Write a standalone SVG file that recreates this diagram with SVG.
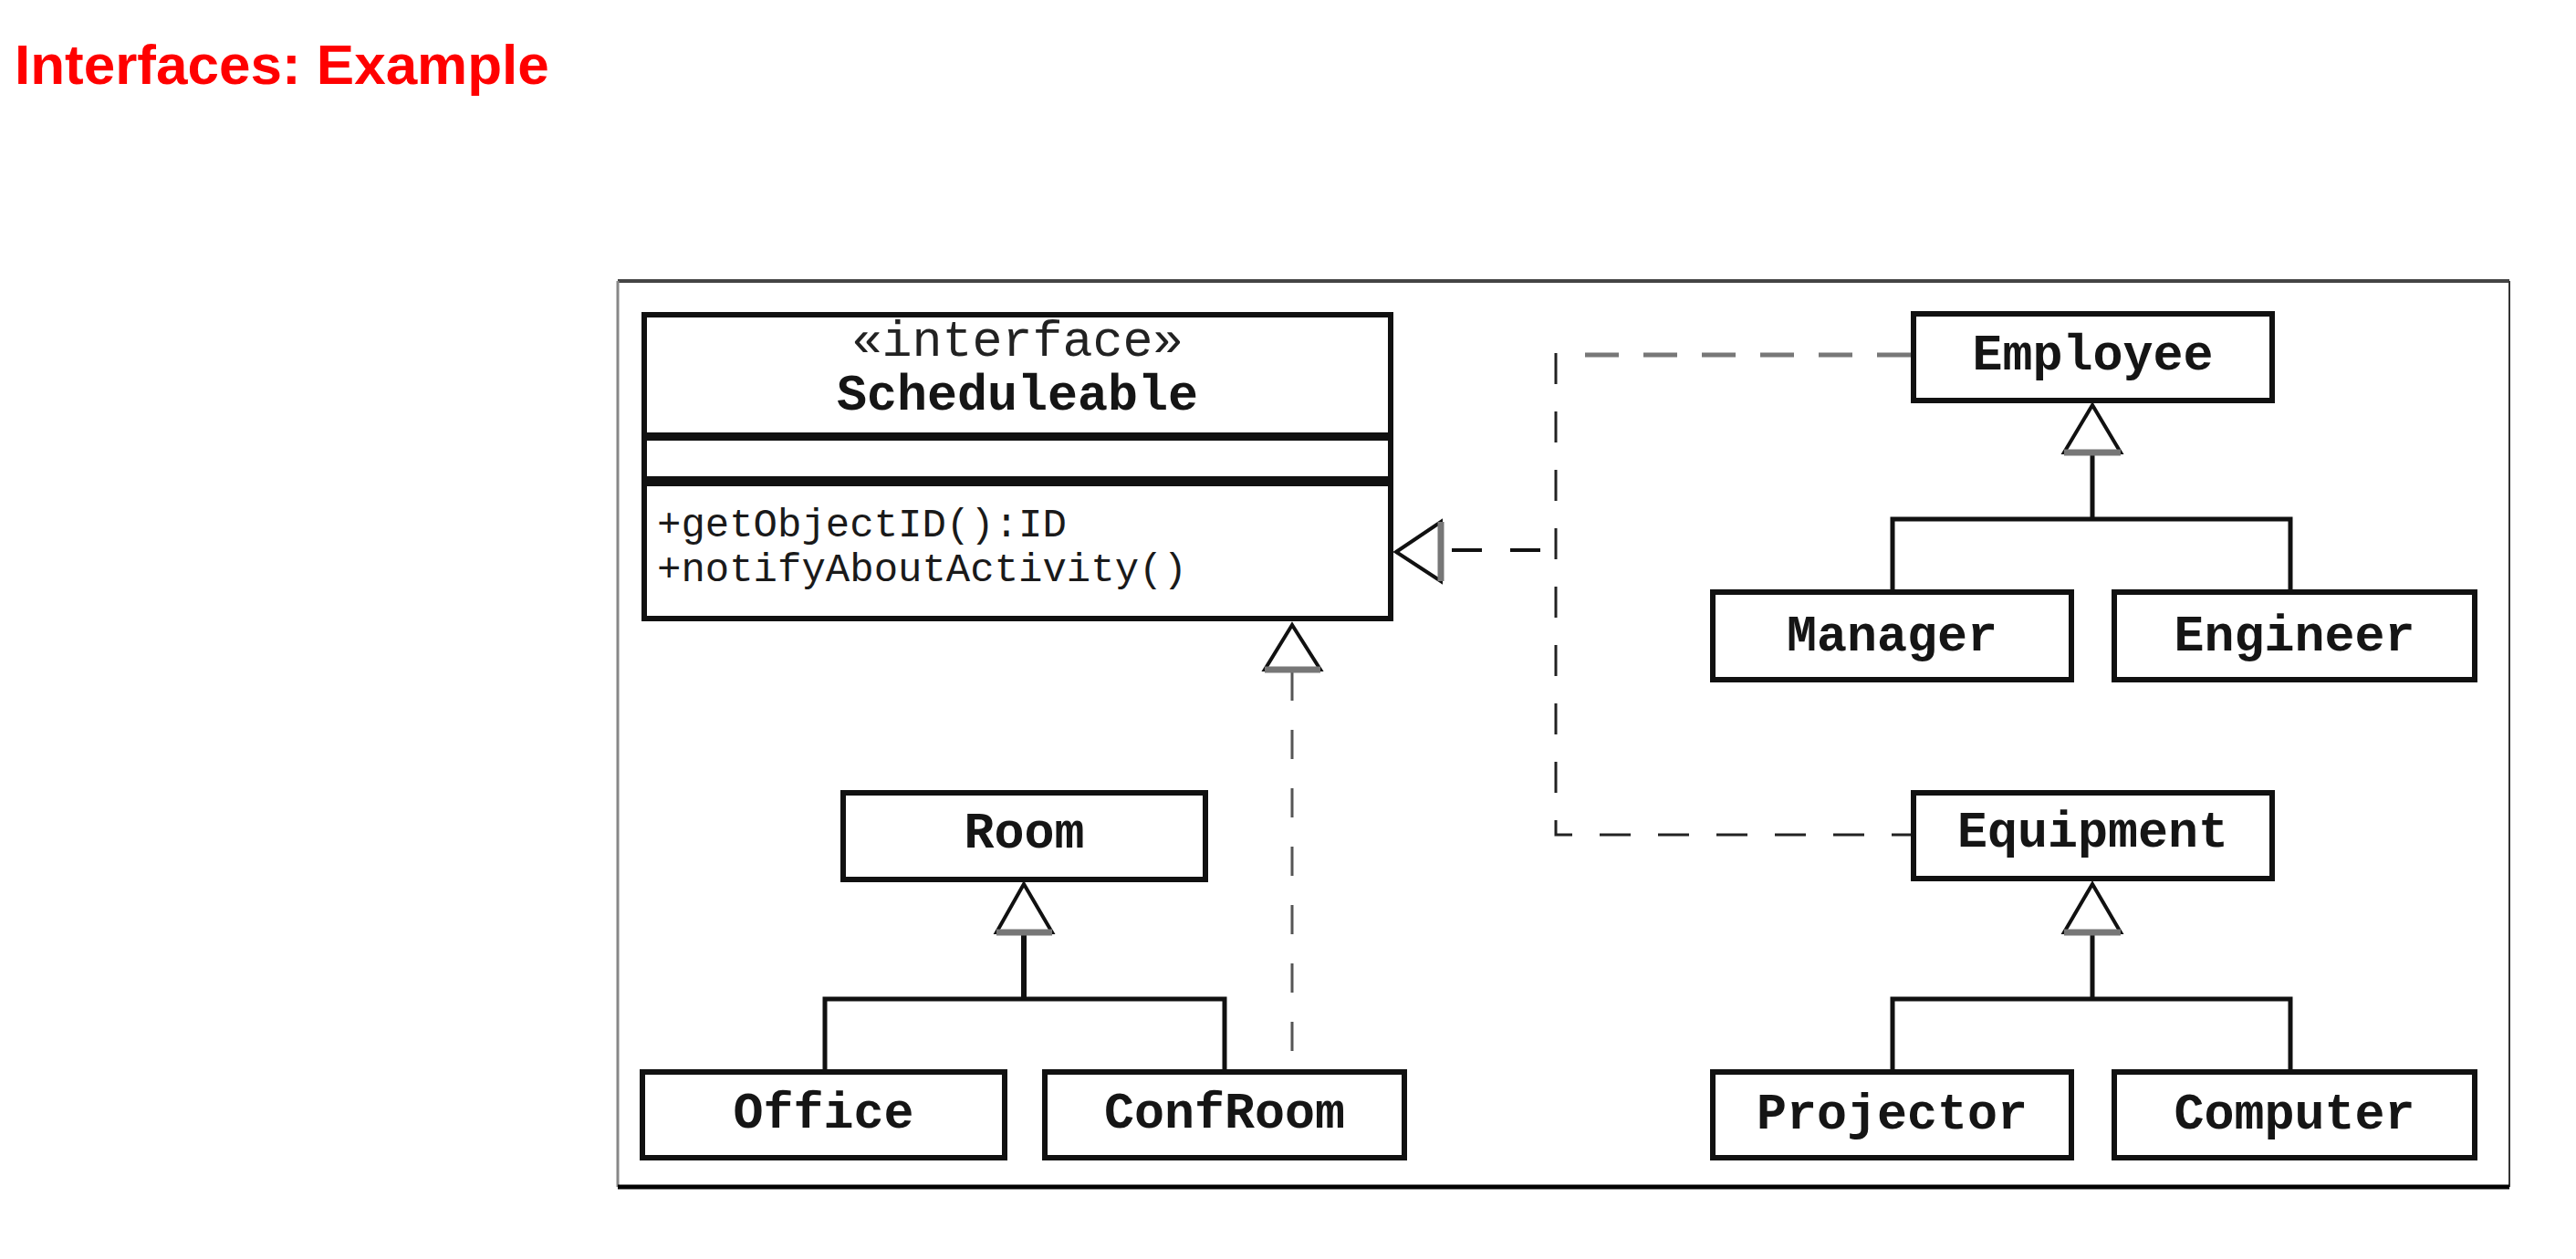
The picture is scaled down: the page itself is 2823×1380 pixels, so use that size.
<svg xmlns="http://www.w3.org/2000/svg" width="2823" height="1380" viewBox="0 0 2823 1380">
<style>
.box{fill:#fff;stroke:#111;stroke-width:6}
.cls{font-family:"Liberation Mono","Courier New",monospace;font-size:55px;font-weight:bold;text-anchor:middle;fill:#151515}
.ster{font-family:"Liberation Mono","Courier New",monospace;font-size:55px;text-anchor:middle;fill:#222}
.meth{font-family:"Liberation Mono","Courier New",monospace;font-size:44px;fill:#1a1a1a}
.gen{stroke:#111;stroke-width:5;fill:none}
.tri{fill:#fff;stroke:#111;stroke-width:4;stroke-linejoin:miter}
.base{stroke:#777;stroke-width:7}
.dash{fill:none;stroke:#222;stroke-width:3;stroke-dasharray:34 30}
</style>
<rect width="2823" height="1380" fill="#fff"/>
<text x="16" y="92" font-family="Liberation Sans, Arial, sans-serif" font-size="62" font-weight="bold" fill="#ff0000">Interfaces: Example</text>
<g id="frame">
<line x1="677" y1="308" x2="2750" y2="308" stroke="#444" stroke-width="4"/>
<line x1="677" y1="308" x2="677" y2="1301" stroke="#888" stroke-width="3"/>
<line x1="2750" y1="308" x2="2750" y2="1301" stroke="#333" stroke-width="2"/>
<line x1="677" y1="1301" x2="2750" y2="1301" stroke="#000" stroke-width="5"/>
</g>
<g id="connectors">
<!-- realization: Employee/Equipment to Scheduleable -->
<path d="M2094 389 H1737" fill="none" stroke="#777" stroke-width="5" stroke-dasharray="37 27"/>
<path class="dash" d="M1705 387 V915 H2094"/>
<path d="M1591 603 H1688" fill="none" stroke="#111" stroke-width="4" stroke-dasharray="33 31"/>
<polygon class="tri" points="1530,605 1579,572 1579,637"/>
<line class="base" x1="1579" y1="572" x2="1579" y2="637"/>
<!-- realization: ConfRoom to Scheduleable -->
<path d="M1416 736 V1172" fill="none" stroke="#555" stroke-width="3" stroke-dasharray="32 32"/>
<polygon class="tri" points="1416,685 1386,734 1447,734"/>
<line class="base" x1="1386" y1="734" x2="1447" y2="734"/>
<!-- generalization: Manager/Engineer to Employee -->
<path class="gen" d="M2293 497 V569 M2074 646 V569 H2510 V646"/>
<polygon class="tri" points="2293,444 2262,496 2324,496"/>
<line class="base" x1="2262" y1="496" x2="2324" y2="496"/>
<!-- generalization: Projector/Computer to Equipment -->
<path class="gen" d="M2293 1023 V1095 M2074 1172 V1095 H2510 V1172"/>
<polygon class="tri" points="2293,969 2262,1022 2324,1022"/>
<line class="base" x1="2262" y1="1022" x2="2324" y2="1022"/>
<!-- generalization: Office/ConfRoom to Room -->
<path class="gen" d="M904 1172 V1095 H1342 V1172"/>
<path d="M1122 1023 V1095" stroke="#111" stroke-width="6"/>
<polygon class="tri" points="1122,969 1092,1022 1153,1022"/>
<line class="base" x1="1092" y1="1022" x2="1153" y2="1022"/>
</g>
<g id="scheduleable">
<rect class="box" x="706" y="345" width="818" height="333"/>
<rect x="703" y="474" width="824" height="9" fill="#111"/>
<rect x="703" y="522" width="824" height="11" fill="#111"/>
<text class="ster" x="1115" y="390">«interface»</text>
<text class="cls" x="1115" y="449">Scheduleable</text>
<text class="meth" x="720" y="588">+getObjectID():ID</text>
<text class="meth" x="720" y="637">+notifyAboutActivity()</text>
</g>
<g id="employee">
<rect class="box" x="2097" y="344" width="393" height="95"/>
<text class="cls" x="2293.5" y="405">Employee</text>
</g>
<g id="manager">
<rect class="box" x="1877" y="649" width="393" height="96"/>
<text class="cls" x="2073.5" y="713">Manager</text>
</g>
<g id="engineer">
<rect class="box" x="2317" y="649" width="395" height="96"/>
<text class="cls" x="2514.5" y="713">Engineer</text>
</g>
<g id="equipment">
<rect class="box" x="2097" y="869" width="393" height="94"/>
<text class="cls" x="2293.5" y="928">Equipment</text>
</g>
<g id="projector">
<rect class="box" x="1877" y="1175" width="393" height="94"/>
<text class="cls" x="2073.5" y="1237">Projector</text>
</g>
<g id="computer">
<rect class="box" x="2317" y="1175" width="395" height="94"/>
<text class="cls" x="2514.5" y="1237">Computer</text>
</g>
<g id="room">
<rect class="box" x="924" y="869" width="397" height="95"/>
<text class="cls" x="1122.5" y="929">Room</text>
</g>
<g id="office">
<rect class="box" x="704" y="1175" width="397" height="94"/>
<text class="cls" x="902.5" y="1236">Office</text>
</g>
<g id="confroom">
<rect class="box" x="1145" y="1175" width="394" height="94"/>
<text class="cls" x="1342" y="1236">ConfRoom</text>
</g>
</svg>
